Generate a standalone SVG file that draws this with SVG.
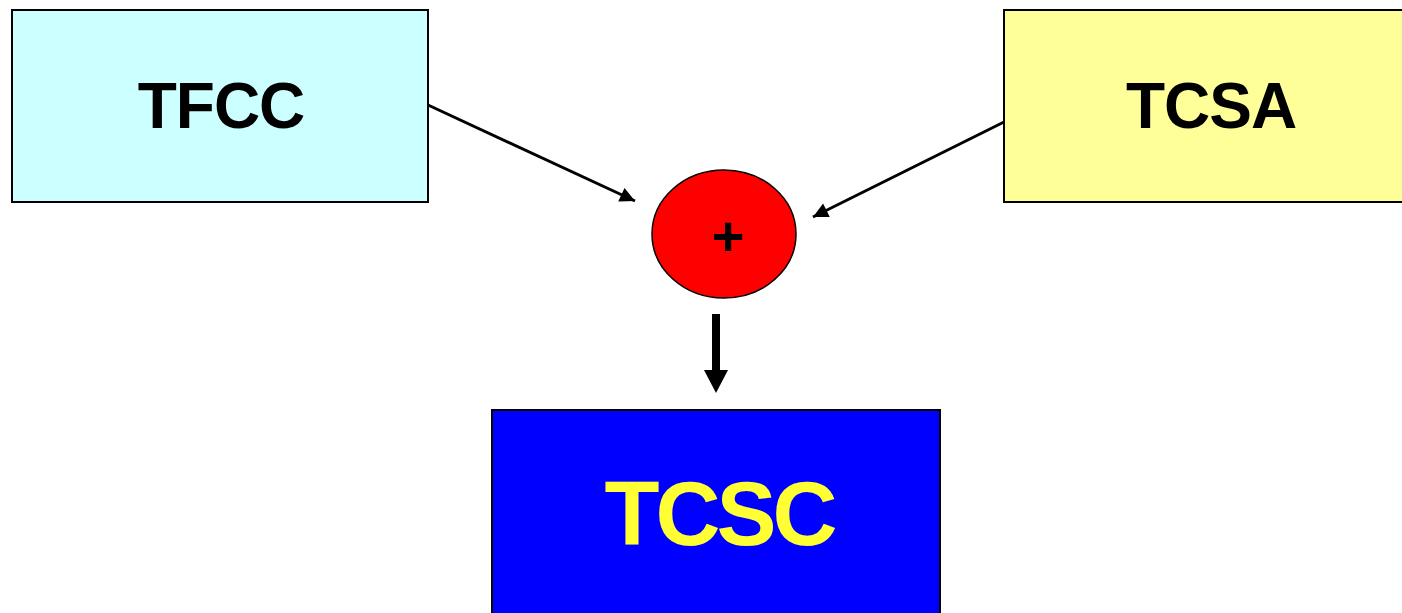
<svg xmlns="http://www.w3.org/2000/svg" width="1402" height="613" viewBox="0 0 1402 613">
<style>
.box{stroke:#000;stroke-width:2}
.lbl{font-family:"Liberation Sans",Arial,sans-serif;font-weight:bold;text-anchor:middle}
.conn{stroke:#000;fill:none}
</style>
<defs>
<marker id="ah" viewBox="0 0 10 10" refX="10" refY="5" markerWidth="6" markerHeight="5" markerUnits="strokeWidth" orient="auto">
<path d="M0,0 L10,5 L0,10 z" fill="#000"/>
</marker>
</defs>
<rect width="1402" height="613" fill="#fff"/>
<g id="connectors">
<line class="conn" x1="428" y1="105" x2="635" y2="201" stroke-width="3" marker-end="url(#ah)"/>
<line class="conn" x1="1004" y1="122" x2="813" y2="217" stroke-width="3" marker-end="url(#ah)"/>
<line class="conn" x1="716" y1="314" x2="716" y2="372" stroke-width="8"/>
<path d="M704,370 L728,370 L716,393 z" fill="#000"/>
</g>
<g id="tfcc">
<rect class="box" x="12" y="10" width="416" height="192" fill="#CCFFFF"/>
<text class="lbl" x="221" y="128" font-size="64" fill="#000" letter-spacing="-1">TFCC</text>
</g>
<g id="tcsa">
<rect class="box" x="1004" y="10" width="410" height="192" fill="#FFFF99"/>
<text class="lbl" x="1211" y="128" font-size="64" fill="#000" letter-spacing="-1">TCSA</text>
</g>
<g id="sum">
<ellipse cx="724" cy="234" rx="72" ry="64" fill="#FF0000" stroke="#000" stroke-width="1.5"/>
<text class="lbl" x="728" y="255" font-size="56" fill="#000">+</text>
</g>
<g id="tcsc">
<rect class="box" x="492" y="410" width="448" height="215" fill="#0000FF"/>
<text class="lbl" x="719" y="545" font-size="90" fill="#FFFF33" letter-spacing="-4">TCSC</text>
</g>
</svg>
